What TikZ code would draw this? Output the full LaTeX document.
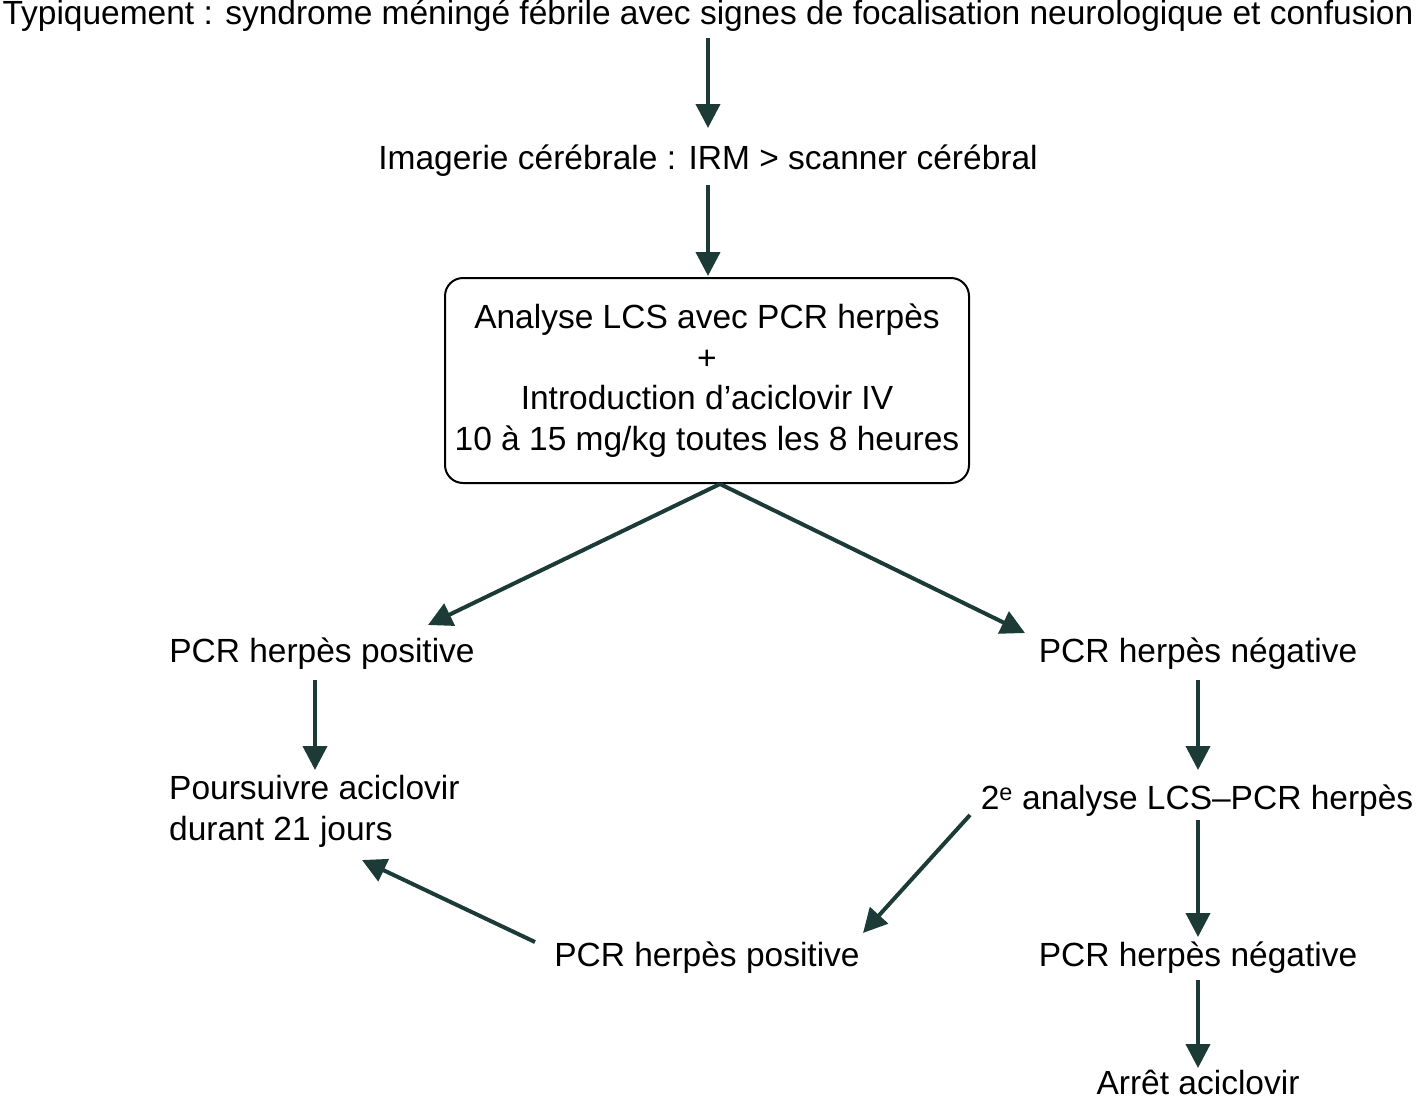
\documentclass[tikz,border=0pt]{standalone}
\usepackage{fontspec}
\setmainfont{Liberation Sans}
\usetikzlibrary{arrows.meta}
\definecolor{ink}{HTML}{1C3A36}
\begin{document}
\begin{tikzpicture}[x=1pt,y=-1pt,
  t/.style={font=\fontsize{33.5}{40}\selectfont, inner sep=0pt, anchor=center},
  arr/.style={draw=ink, line width=4pt, -{Triangle[length=24pt,width=24pt]}}]
\useasboundingbox (0,0) rectangle (1416,1098);
\node[t] (top) at (708,16) {Typiquement : syndrome méningé fébrile avec signes de focalisation neurologique et confusion};
\node[t] (img) at (708,161) {Imagerie cérébrale : IRM > scanner cérébral};
\node[draw=black, line width=2pt, rounded corners=18pt, minimum width=524pt, minimum height=205pt, anchor=center, align=center, font=\fontsize{33.5}{40.5}\selectfont] (box) at (707,380.5) {Analyse LCS avec PCR herpès\\+\\Introduction d’aciclovir IV\\10 à 15 mg/kg toutes les 8 heures};
\node[t] (pos1) at (322,654) {PCR herpès positive};
\node[t] (neg1) at (1198,654) {PCR herpès négative};
\node[t, anchor=west, align=left, font=\fontsize{33.5}{41}\selectfont] (pours) at (169,811) {Poursuivre aciclovir\\durant 21 jours};
\node[t] (ana2) at (1197,801) {2\textsuperscript{e} analyse LCS–PCR herpès};
\node[t] (pos2) at (707,958) {PCR herpès positive};
\node[t] (neg2) at (1198,958) {PCR herpès négative};
\node[t] (stop) at (1198,1082) {Arrêt aciclovir};

\coordinate (a1s) at (708,38); \coordinate (a1e) at (708,128);
\coordinate (a2s) at (708,185); \coordinate (a2e) at (708,276);
\coordinate (bs) at (720,484);
\coordinate (l1e) at (428,625); \coordinate (r1e) at (1025,633);
\coordinate (p1s) at (315,680); \coordinate (p1e) at (315,770);
\coordinate (n1s) at (1198,680); \coordinate (n1e) at (1198,770);
\coordinate (d1s) at (970,815); \coordinate (d1e) at (863,933);
\coordinate (n2s) at (1198,820); \coordinate (n2e) at (1198,937);
\coordinate (p2s) at (535,942); \coordinate (p2e) at (362,860);
\coordinate (n3s) at (1198,980); \coordinate (n3e) at (1198,1068);

\draw[arr] (a1s) -- (a1e);
\draw[arr] (a2s) -- (a2e);
\draw[arr] (bs) -- (l1e);
\draw[arr] (bs) -- (r1e);
\draw[arr] (p1s) -- (p1e);
\draw[arr] (n1s) -- (n1e);
\draw[arr] (d1s) -- (d1e);
\draw[arr] (n2s) -- (n2e);
\draw[arr] (p2s) -- (p2e);
\draw[arr] (n3s) -- (n3e);
\end{tikzpicture}
\end{document}
